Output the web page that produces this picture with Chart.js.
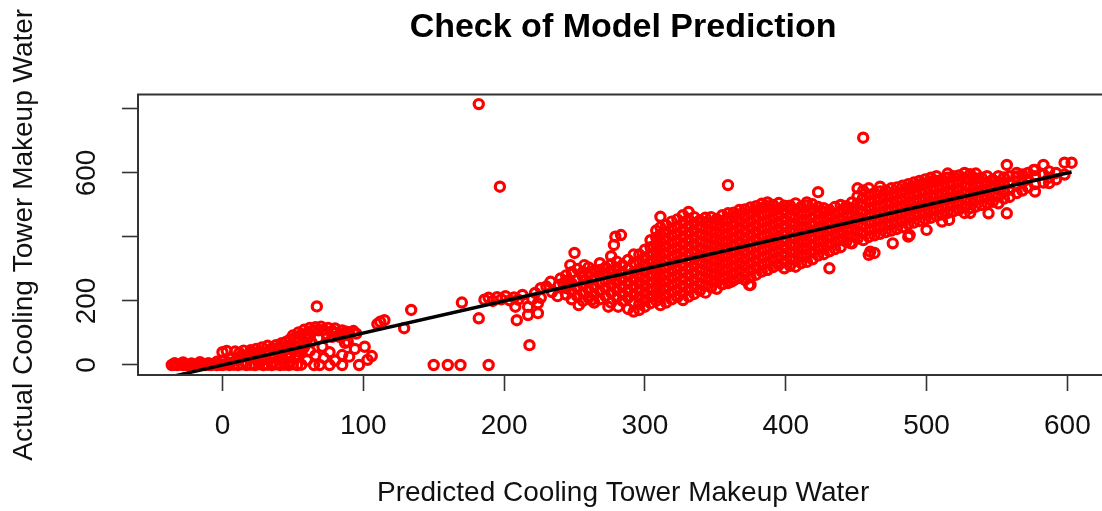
<!DOCTYPE html>
<html><head><meta charset="utf-8">
<script src="https://cdn.jsdelivr.net/npm/chart.js@4.4.1/dist/chart.umd.min.js"></script>
<style>
html,body{margin:0;padding:0;background:#fff;overflow:hidden;width:1102px;height:511px}
#wrap{position:absolute;left:0;top:0;width:1116px;height:511px}
</style>
</head><body><div id="wrap"><canvas id="c" width="1116" height="511"></canvas></div>
<script>
const chartTitle = 'Check of Model Prediction';
const xAxisTitle = 'Predicted Cooling Tower Makeup Water';
const yAxisTitle = 'Actual Cooling Tower Makeup Water';
const xTicks = [0, 100, 200, 300, 400, 500, 600];
const yTicks = [0, 200, 400, 600, 800];
const yTickLabels = ['0', '200', '', '600', ''];
const fitLineX = [-34, 603];
const fitLineY = [-34, 603];

// [predicted, actual] pairs, low range
const lowPoints = [
[-36,0],[-34,1],[-32,0],[-30,2],[-28,0],[-26,1],[-24,0],[-22,2],[-20,0],[-18,1],[-16,0],[-14,2],[-12,0],[-10,1],[-8,0],[-6,2],[-4,0],[-2,1],[0,0],[2,2],[5,0],[8,1],[11,0],[14,2],[17,0],[20,1],[23,0],[26,2],[29,0],[32,1],[35,0],[38,2],[41,0],[44,1],[47,0],[50,2],[53,0],[56,1],[65,0],[69,0],[76,0],[85,0],[97,0],
[-34,6],[-28,8],[-22,5],[-16,9],[-10,6],[-4,10],[0,14],[4,8],[6,22],[10,16],[13,28],[16,10],[19,22],[22,32],[25,14],[28,26],[31,38],[34,20],[37,30],[40,44],[43,18],[46,34],[49,48],[52,26],[55,40],[58,56],[48,10],[36,8],
[18,30],[21,40],[24,22],[27,38],[30,18],[33,44],[36,28],[39,52],[42,36],[45,50],[48,24],[51,56],[54,70],[57,64],[60,80],[63,72],[46,60],[40,30],[26,8],[44,6],
[0,40],[3,44],[9,42],[12,38],[15,45],[20,46],[24,50],[28,55],[32,60],[35,52],[38,62],[42,68],[45,72],[48,80],[50,92],[52,86],[54,102],[56,96],[58,110],[60,98],[62,116],[64,106],[66,118],[68,108],[70,120],[72,110],[75,116],[78,106],[80,114],[83,96],[85,108],[88,104],[90,100],[93,106],[95,98],[83,88],[87,69],[67,183],
[62,90],[68,84],[74,96],[80,100],[86,92],[78,88],
[53,31],[57,50],[62,44],[66,30],[71,57],[76,40],[80,14],[85,31],[89,73],[90,26],[94,50],[101,57],[106,28],[103,16],[60,15],[72,22]
];

// [predicted, actual] pairs, middle range
const midPoints = [
[110,128],[112,135],[115,140],[129,115],[134,172],[150,0],[160,0],[169,0],[189,0],[170,195],[182,146],
[186,204],[189,210],[192,200],[195,212],[198,205],[201,215],[204,202],[207,211],[210,204],[213,219],[208,182],[209,140],
[218,62],[217,182],[224,193],[217,156],[224,162],[220,205],[222,225],[226,240],[226,210],[230,245],[233,260],[234,228],
[238,215],[239,250],[242,255],[240,270],[246,265],[250,350],[247,312],[257,312],[256,291],[253,187],[262,203],
[274,182],[281,182],[279,401],[283,406],[278,375]
];

// [predicted, actual, actual, ...] columns of the dense band
const bandColumns = [
[244,220,240,262,280],
[248,205,230,255,290],
[252,215,240,265,300],
[256,200,225,250,275],
[260,210,235,258,282,305],
[264,195,220,245,270,295],
[268,205,230,255,280,297,318],
[272,215,240,262,285,305],
[276,195,225,250,272,295,315,340],
[280,210,235,258,280,302,323],
[284,200,222,245,268,290,312],
[288,175,210,232,255,278,300,328],
[292,167,195,220,245,268,290,319,345],
[296,172,190,212,233,255,276,298,320,345],
[300,182,204,226,248,270,292,314,336,360],
[304,193,214,236,258,280,302,324,346,368,390],
[308,200,222,244,266,288,310,332,354,376,398,420],
[311,187,210,232,254,276,298,320,342,364,386,408,430,463],
[315,195,217,239,261,283,305,327,349,371,393,415,437],
[319,205,228,250,272,294,316,338,360,382,404,426,448],
[323,212,234,256,278,300,322,344,366,388,410,432,455],
[327,203,225,247,269,291,313,335,357,379,401,423,445,468],
[331,214,236,258,280,302,324,346,368,390,412,434,456,478],
[335,222,244,266,288,310,332,354,376,398,420,442,462],
[339,232,254,276,298,320,342,364,386,408,430,452],
[343,226,248,270,292,314,336,358,380,402,424,446,460],
[347,242,264,286,308,330,352,374,396,418,440,462],
[351,238,260,282,304,326,348,370,392,414,436,456],
[355,252,274,296,318,340,362,384,406,428,450,468],
[359,256,278,300,322,344,366,388,410,432,454,474],
[363,264,286,308,330,352,374,396,418,440,462,476],
[367,272,294,316,338,360,382,404,426,448,470,484],
[371,266,288,310,332,354,376,398,420,442,464,486],
[375,250,274,296,318,340,362,384,406,428,450,472,492],
[379,282,304,326,348,370,392,414,436,458,480,496],
[383,292,314,336,358,380,402,424,446,468,490,504],
[387,297,320,342,364,386,408,430,452,474,496,508],
[391,306,328,350,372,394,416,438,460,482,500],
[395,312,334,356,378,400,422,444,466,488,506],
[399,302,324,346,368,390,412,434,456,478,498],
[403,310,332,354,376,398,420,442,464,486,498],
[407,307,330,352,374,396,418,440,462,484,505],
[411,318,340,362,384,406,428,450,472,494],
[415,322,344,366,388,410,432,454,476,498,508],
[419,330,352,374,396,418,440,462,484,502],
[423,342,364,386,408,430,452,474,494],
[427,346,368,390,412,434,456,478,490],
[431,355,377,399,421,443,465,484],
[435,362,384,406,428,450,472,494],
[439,368,390,412,434,456,478,500],
[443,385,400,422,444,466,488,496],
[447,380,402,424,446,468,490,508]
];

// [predicted, actual, actual, ...] columns of the upper range
const upperColumns = [
[451,395,417,439,461,483,505,527,552],
[455,390,412,434,456,478,500,522,545],
[459,400,422,444,466,488,510,532,552,344],
[463,405,427,449,471,493,515,537],
[467,410,432,454,476,498,520,542,557],
[471,415,437,459,481,503,525,545],
[475,420,442,464,486,508,530,552],
[479,425,447,469,491,513,535,555],
[483,430,452,474,496,518,540,560],
[487,401,440,462,484,506,528,550,565],
[491,445,467,489,511,533,555,570],
[495,450,472,494,516,538,560,575],
[499,455,477,499,521,543,565,580],
[503,460,482,504,526,548,570,585],
[507,465,487,509,531,553,575,590],
[511,448,470,492,514,536,558,580],
[515,475,497,519,541,563,585,598],
[519,480,502,524,546,568,590],
[523,485,507,529,551,573,592],
[527,475,495,517,539,561,583,600],
[531,490,512,534,556,578,596],
[535,495,517,539,561,583,598],
[539,500,522,544,566,585],
[543,505,527,549,571,590],
[547,510,532,554,578],
[551,505,527,549,571,590],
[555,520,542,564,586],
[559,525,547,569,590],
[564,560,588,600],
[568,545,570,595],
[572,555,580,600],
[577,565,590,609],
[583,570,595],
[587,585,605],
[592,580,600],
[598,595]
];

// [predicted, actual] isolated points
const outlierPoints = [
[182,815],[197,557],[359,562],[423,540],[455,710],[460,354],[463,350],[446,381],[431,302],[374,250],[361,260],
[387,297],[516,453],[531,475],[476,380],[488,406],[500,422],[544,474],[557,474],[557,625],[583,625],[598,632],
[603,632],[587,568],[576,609],[564,588],[547,578],[577,542],[564,537]
];

const sansFont = "'Liberation Sans', Arial, Helvetica, sans-serif";

const scatterData = [];
[lowPoints, midPoints, outlierPoints].forEach(arr => arr.forEach(p => scatterData.push({x: p[0], y: p[1]})));
[bandColumns, upperColumns].forEach(arr => arr.forEach(r => r.slice(1).forEach(y => scatterData.push({x: r[0], y: y}))));

const lineData = fitLineX.map((x, i) => ({x: x, y: fitLineY[i]}));

const framePlugin = {
  id: 'frame',
  afterDatasetsDraw(chart) {
    const a = chart.chartArea, ctx = chart.ctx;
    ctx.save();
    ctx.strokeStyle = '#333';
    ctx.lineWidth = 2;
    ctx.strokeRect(a.left, a.top, a.right - a.left, a.bottom - a.top);
    ctx.restore();
  }
};

new Chart(document.getElementById('c'), {
  type: 'scatter',
  data: {
    datasets: [
      {
        type: 'line', data: lineData, borderColor: '#000', borderWidth: 3.5,
        pointRadius: 0, fill: false, order: 0, clip: 0
      },
      {
        type: 'scatter', data: scatterData, borderColor: '#ff0000',
        backgroundColor: 'rgba(0,0,0,0)', pointRadius: 4.6, borderWidth: 3.2,
        pointStyle: 'circle', order: 1, clip: 3
      }
    ]
  },
  options: {
    responsive: false, animation: false, events: [],
    layout: {padding: {left: 0, right: 4, top: 0, bottom: 0}},
    plugins: {
      legend: {display: false},
      tooltip: {enabled: false},
      title: {
        display: true, text: chartTitle, fullSize: false, color: '#000',
        font: {family: sansFont, size: 34, weight: 'bold'},
        padding: {top: 7.1, bottom: 46.6}
      }
    },
    scales: {
      x: {
        type: 'linear', min: -60, max: 629,
        afterBuildTicks: s => { s.ticks = xTicks.map(v => ({value: v})); },
        afterFit: s => { s.height = 136; },
        grid: {drawOnChartArea: false, drawTicks: true, tickLength: 16, tickColor: '#333', tickWidth: 1.6},
        border: {display: false},
        ticks: {font: {family: sansFont, size: 28}, color: '#111', padding: 18, maxRotation: 0, autoSkip: false},
        title: {display: true, text: xAxisTitle, color: '#111', font: {family: sansFont, size: 28}, padding: {top: 0, bottom: 1}}
      },
      y: {
        type: 'linear', min: -31.25, max: 845,
        afterBuildTicks: s => { s.ticks = yTicks.map(v => ({value: v})); },
        afterFit: s => { s.width = 138; },
        grid: {drawOnChartArea: false, drawTicks: true, tickLength: 16, tickColor: '#333', tickWidth: 1.6},
        border: {display: false},
        ticks: {
          font: {family: sansFont, size: 28}, color: '#111', padding: 11,
          minRotation: 90, maxRotation: 90, crossAlign: 'center', autoSkip: false,
          callback: (v, i) => yTickLabels[i]
        },
        title: {display: true, text: yAxisTitle, color: '#111', font: {family: sansFont, size: 28}, padding: {top: 7, bottom: 0}}
      }
    }
  },
  plugins: [framePlugin]
});
</script>
</body></html>
